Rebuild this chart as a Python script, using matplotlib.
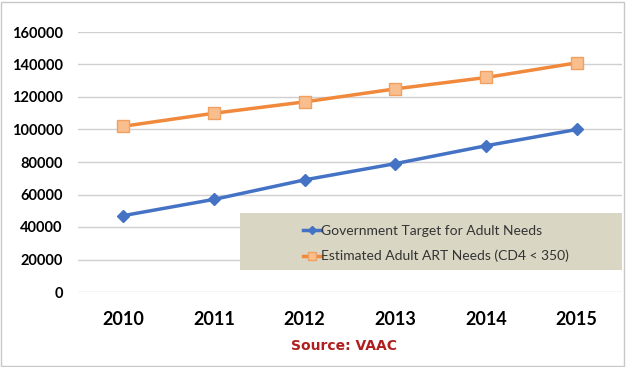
import numpy as np
import matplotlib.pyplot as plt

# data
years = ['2010', '2011', '2012', '2013', '2014', '2015']
gov_target = [47000, 57000, 69000, 79000, 90000, 100000]
art_needs = [102000, 110000, 117000, 125000, 132000, 141000]
y_ticks = [0, 20000, 40000, 60000, 80000, 100000, 120000, 140000, 160000]

plt.rcParams['font.family'] = ['Lato', 'DejaVu Sans']

fig = plt.figure(figsize=(6.26, 3.67), dpi=100)
ax = fig.add_axes([78 / 626, 1 - 292 / 367, 544 / 626, 260 / 367])

x = np.arange(len(years))
ax.plot(x, gov_target, color='#4472C4', lw=2.5, marker='D', ms=6,
        mfc='#4472C4', mec='#4472C4', label='Government Target for Adult Needs')
ax.plot(x, art_needs, color='#F0893C', lw=2.5, marker='s', ms=8,
        mfc='#F9BE8D', mec='#F0A060', label='Estimated Adult ART Needs (CD4 < 350)')

ax.set_xlim(-0.5, len(years) - 0.5)
ax.set_ylim(0, 160000)
ax.set_yticks(y_ticks)
ax.set_yticklabels([str(v) for v in y_ticks], fontsize=10.5, fontweight='bold')
ax.set_xticks(x)
ax.set_xticklabels(years, fontsize=13, fontweight='bold')
ax.tick_params(length=0)
ax.tick_params(axis='x', pad=14)
ax.tick_params(axis='y', pad=11)
ax.grid(axis='y', color='#D0D0D0', lw=1)
ax.set_axisbelow(True)
for s in ax.spines.values():
    s.set_visible(False)

# beige box behind the legend (pixel box 240..622 x 213..270)
box = plt.Rectangle(((240 - 78) / 544, (292 - 270) / 260), (622 - 240) / 544, 57 / 260,
                    transform=ax.transAxes, facecolor='#DAD6C4', edgecolor='none', zorder=3)
ax.add_patch(box)
leg = ax.legend(loc='upper left', bbox_to_anchor=((293 - 78) / 544, (292 - 215) / 260),
                fontsize=10, frameon=False, handlelength=1.3, handletextpad=0.05,
                markerscale=0.75, borderpad=0.2, labelspacing=0.95)
leg.set_zorder(4)
for t in leg.get_texts():
    t.set_color('#333333')

fig.text(344 / 626, 1 - 346 / 367, 'Source: VAAC', color='#B01E1E',
         fontsize=10, fontweight='bold', ha='center', va='center', family='DejaVu Sans')

# thin outer frame
fig.patches.append(plt.Rectangle((0.002, 0.004), 0.995, 0.99, transform=fig.transFigure,
                                 fill=False, edgecolor='#C8C8C8', lw=1))

fig.savefig('out.png', dpi=100)
